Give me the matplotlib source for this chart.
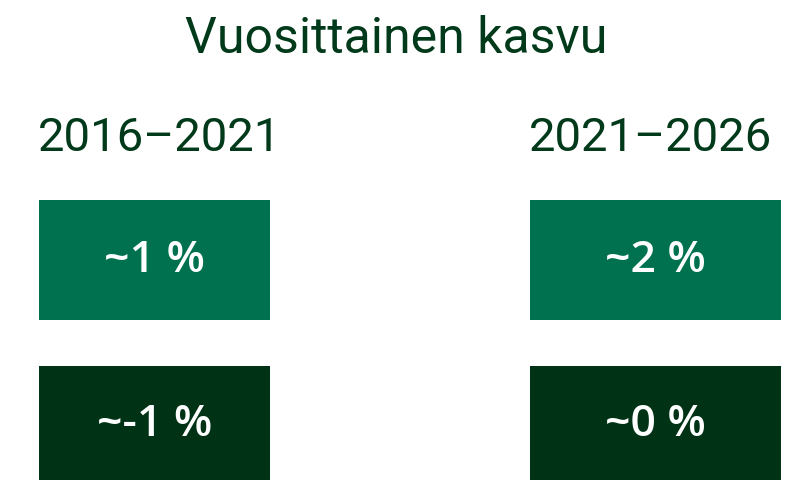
import matplotlib.pyplot as plt

# data
periods = ["2016–2021", "2021–2026"]
top_labels = ["~1 %", "~2 %"]
bottom_labels = ["~-1 %", "~0 %"]
title = "Vuosittainen kasvu"

head_color = "#003A1A"
top_color = "#00714F"
bottom_color = "#003316"

fig = plt.figure(figsize=(7.85, 4.8), dpi=100)
ax = fig.add_axes([0, 0, 1, 1])
ax.set_xlim(0, 785)
ax.set_ylim(480, 0)
ax.axis("off")

lefts = [39, 530]
widths = [231, 251]

# boxes
ax.bar(lefts, [120, 120], width=widths, bottom=[200, 200], align="edge",
       color=top_color, linewidth=0)
ax.bar(lefts, [114, 114], width=widths, bottom=[366, 366], align="edge",
       color=bottom_color, linewidth=0)

for i, p in enumerate(periods):
    cx = lefts[i] + widths[i] / 2
    ax.text(lefts[i] - 1, 138, p, fontsize=34, family="Roboto", color=head_color,
            ha="left", va="center")
    ax.text(cx, 260, top_labels[i], fontsize=32, family="Open Sans", weight="semibold",
            color="white", ha="center", va="center")
    ax.text(cx, 424, bottom_labels[i], fontsize=32, family="Open Sans", weight="semibold",
            color="white", ha="center", va="center")

ax.text(396, 39, title, fontsize=36, family="Roboto", color=head_color,
        ha="center", va="center")

fig.savefig("out.png", dpi=100)
